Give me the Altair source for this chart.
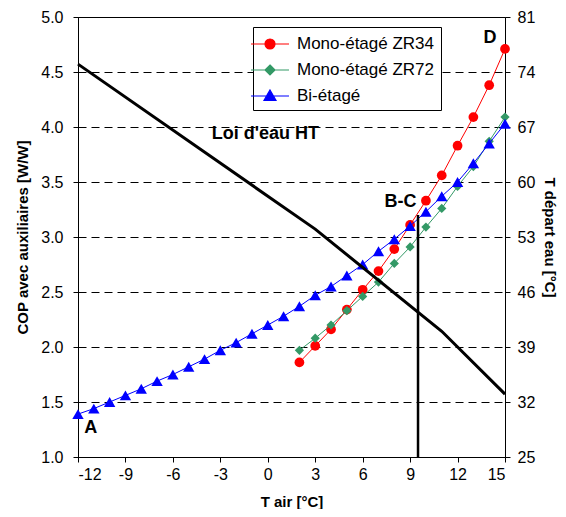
import altair as alt
import pandas as pd

# ---- data ----
t_air_bi = list(range(-12, 16))
cop_bi = [1.39, 1.44, 1.50, 1.56, 1.62, 1.69, 1.75, 1.82, 1.89, 1.97,
          2.04, 2.12, 2.20, 2.28, 2.37, 2.47, 2.55, 2.65, 2.75, 2.87,
          2.98, 3.10, 3.23, 3.37, 3.50, 3.67, 3.85, 4.03]
t_air_mono = list(range(2, 16))
cop_zr34 = [1.86, 2.01, 2.16, 2.34, 2.52, 2.69, 2.89, 3.11, 3.33, 3.56, 3.83, 4.09, 4.38, 4.71]
cop_zr72 = [1.97, 2.08, 2.20, 2.33, 2.46, 2.59, 2.76, 2.91, 3.09, 3.26, 3.46, 3.64, 3.87, 4.09]

loi_t_air = [-12, 3, 11, 15]
loi_t_depart = [75, 54, 41, 33]

vline_t_air = [9.5, 9.5]
vline_cop = [1.0, 3.2]

series_names = ["Mono-étagé ZR34", "Mono-étagé ZR72", "Bi-étagé"]
series_colors = ["#FF0000", "#339966", "#0000FF"]

ann_text = ["A", "D", "B-C", "Loi d'eau HT"]
ann_x = [-11.2, 14.05, 8.4, -0.15]
ann_y = [1.26, 4.81, 3.32, 3.94]

x_ticks = list(range(-12, 16, 3))
y_ticks = [1.0, 1.5, 2.0, 2.5, 3.0, 3.5, 4.0, 4.5, 5.0]
y2_ticks = list(range(25, 82, 7))

FONT = "Liberation Sans"

df_bi = pd.DataFrame({"t": t_air_bi, "cop": cop_bi})
df_34 = pd.DataFrame({"t": t_air_mono, "cop": cop_zr34})
df_72 = pd.DataFrame({"t": t_air_mono, "cop": cop_zr72})
df_loi = pd.DataFrame({"t": loi_t_air, "td": loi_t_depart})
df_v = pd.DataFrame({"t": vline_t_air, "cop": vline_cop})
df_ann = pd.DataFrame({"label": ann_text, "t": ann_x, "cop": ann_y})
df_leg = pd.DataFrame({"t": t_air_mono * 3,
                       "cop": cop_zr34 + cop_zr72 + cop_zr34,
                       "series": [s for s in series_names for _ in t_air_mono]})

x_enc = alt.X("t:Q", scale=alt.Scale(domain=[-12, 15], nice=False, zero=False),
              axis=alt.Axis(values=x_ticks, title="T air [°C]", grid=False,
                            labelExpr="'' + datum.value",
                            tickSize=5, labelPadding=4, titlePadding=12))
y_scale = alt.Scale(domain=[1, 5], nice=False, zero=False)
y_axis = alt.Axis(values=y_ticks, format=".1f", title="COP avec auxiliaires [W/W]",
                  grid=True, gridDash=[8, 5], gridColor="black", gridWidth=1,
                  tickSize=5, labelPadding=10, titlePadding=10)
y_enc = alt.Y("cop:Q", scale=y_scale, axis=y_axis)

def series_layer(df, color, shape, size):
    return alt.Chart(df).mark_line(
        color=color, strokeWidth=1,
        point=alt.OverlayMarkDef(shape=shape, size=size, filled=True, color=color, opacity=1)
    ).encode(x=x_enc, y=y_enc)

red = series_layer(df_34, "#FF0000", "circle", 95)
green = series_layer(df_72, "#339966", "diamond", 85)
blue = series_layer(df_bi, "#0000FF", "triangle-up", 130)

leg_paths = [
    "M-1.9,0H1.9M0.5,0A0.5,0.5,0,1,1,-0.5,0A0.5,0.5,0,1,1,0.5,0Z",
    "M-1.9,0H1.9M0,-0.5L0.5,0L0,0.5L-0.5,0Z",
    "M-1.9,0H1.9M0,-0.6L0.6,0.45L-0.6,0.45Z",
]
legend = alt.Legend(title=None, orient="none", legendX=175, legendY=10,
                    symbolSize=400, symbolOpacity=1, symbolStrokeWidth=1.2,
                    labelFont=FONT, labelFontSize=17, labelColor="black",
                    strokeColor="black", fillColor="white", padding=6,
                    rowPadding=7, labelOffset=16, cornerRadius=0)
legend_layer = alt.Chart(df_leg).mark_point(filled=True, opacity=0, size=400).encode(
    x=x_enc, y=y_enc,
    fill=alt.Fill("series:N", scale=alt.Scale(domain=series_names, range=series_colors), legend=legend),
    stroke=alt.Stroke("series:N", scale=alt.Scale(domain=series_names, range=series_colors), legend=legend),
    shape=alt.Shape("series:N", scale=alt.Scale(domain=series_names, range=leg_paths), legend=legend),
)

vline = alt.Chart(df_v).mark_line(color="black", strokeWidth=2.5).encode(x=x_enc, y=y_enc)

ann = alt.Chart(df_ann).mark_text(font=FONT, fontWeight="bold", fontSize=18,
                                  align="center", baseline="middle", color="black").encode(
    x=x_enc, y=y_enc, text="label:N")

left = alt.layer(red, green, blue, vline, legend_layer, ann)

loi = alt.Chart(df_loi).mark_line(color="black", strokeWidth=3).encode(
    x=x_enc,
    y=alt.Y("td:Q", scale=alt.Scale(domain=[25, 81], nice=False, zero=False),
            axis=alt.Axis(orient="right", values=y2_ticks, title="T départ eau [°C]",
                          grid=False, tickSize=5, labelPadding=7, titlePadding=7)))

chart = alt.layer(left, loi).resolve_scale(y="independent").properties(
    width=427, height=440,
    padding={"left": 70, "top": 9, "right": 53, "bottom": 52},
    autosize=alt.AutoSizeParams(type="none"),
    background="white",
).configure_view(stroke="black", strokeWidth=1).configure_axis(
    labelFont=FONT, labelFontSize=16, labelColor="black",
    titleFont=FONT, titleFontSize=15, titleFontWeight="bold", titleColor="black",
    domainColor="black", tickColor="black", domainWidth=1,
)

chart.save("out.html", embed_options={"renderer": "svg", "actions": False})
